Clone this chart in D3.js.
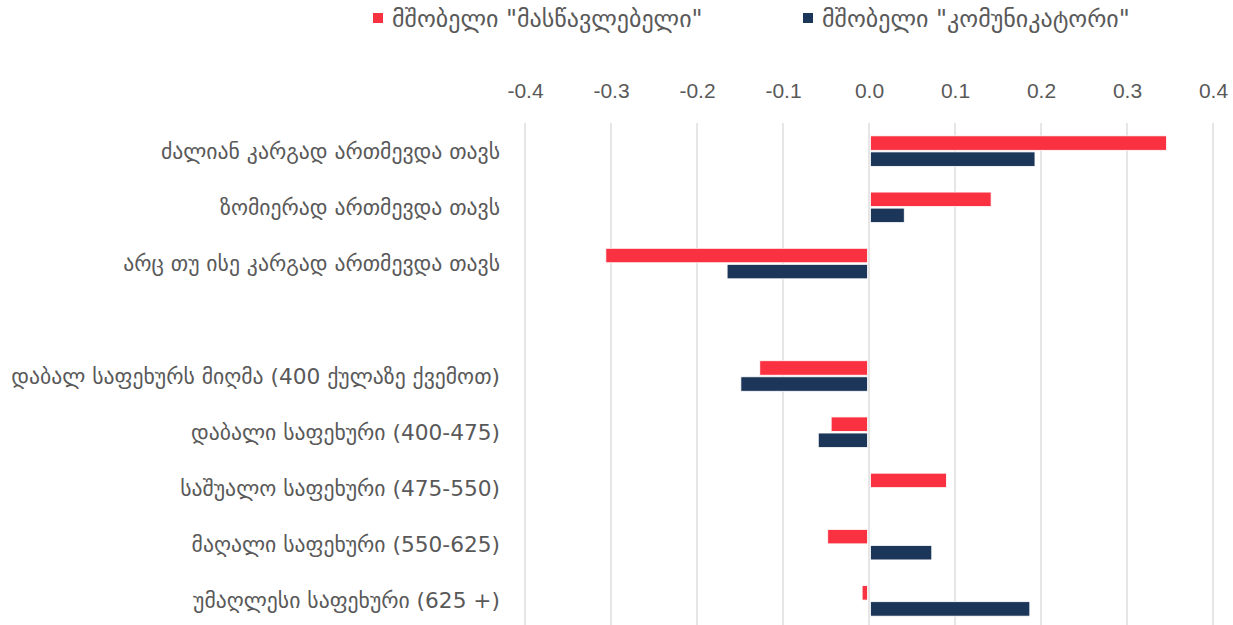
<!DOCTYPE html>
<html>
<head>
<meta charset="utf-8">
<script src="https://cdn.jsdelivr.net/npm/d3@7"></script>
<style>
  html, body { margin: 0; padding: 0; background: #ffffff; }
  svg text { font-family: "DejaVu Sans", "Noto Sans", sans-serif; fill: #595959; }
  .tick-label { font-family: "Liberation Sans", "Noto Sans", sans-serif; }
</style>
</head>
<body>
<svg id="chart" width="1233" height="625"></svg>
<script>
// Categories (an empty string leaves a spacer row between the two groups)
const categories = [
  "ძალიან კარგად ართმევდა თავს",
  "ზომიერად ართმევდა თავს",
  "არც თუ ისე კარგად ართმევდა თავს",
  "",
  "დაბალ საფეხურს მიღმა (400 ქულაზე ქვემოთ)",
  "დაბალი საფეხური (400-475)",
  "საშუალო საფეხური (475-550)",
  "მაღალი საფეხური (550-625)",
  "უმაღლესი საფეხური (625 +)"
];

const seriesNames = ["მშობელი \"მასწავლებელი\"", "მშობელი \"კომუნიკატორი\""];

// Parent "teacher" values
const teacherValues = [0.346, 0.142, -0.306, null, -0.127, -0.044, 0.090, -0.048, -0.008];
// Parent "communicator" values
const communicatorValues = [0.193, 0.041, -0.165, null, -0.149, -0.059, null, 0.073, 0.187];

const tickValues = [-0.4, -0.3, -0.2, -0.1, 0.0, 0.1, 0.2, 0.3, 0.4];

const colors = ["#F93141", "#1C3659"];

const svg = d3.select("#chart");
const W = 1233, H = 625;

const x = d3.scaleLinear().domain([-0.4, 0.4]).range([525, 1213]);
const y = d3.scaleBand().domain(d3.range(categories.length)).range([123, 629]).paddingInner(0).paddingOuter(0);

// Vertical gridlines
svg.append("g")
  .selectAll("line")
  .data(tickValues)
  .join("line")
  .attr("x1", d => x(d)).attr("x2", d => x(d))
  .attr("y1", 123).attr("y2", H)
  .attr("stroke", "#D9D9D9")
  .attr("stroke-width", 1.3);

// Top axis labels (plain hyphen for negatives)
const fmt = d => d3.format(".1f")(d).replace("\u2212", "-");
const axis = d3.axisTop(x).tickValues(tickValues).tickFormat(fmt).tickSize(0);
const axisG = svg.append("g").attr("transform", "translate(0,101)").call(axis);
axisG.select(".domain").remove();
axisG.selectAll("text")
  .attr("class", "tick-label")
  .style("font-size", "21px")
  .style("fill", "#595959")
  .attr("dy", 0);

// Category labels
svg.append("g")
  .selectAll("text")
  .data(categories)
  .join("text")
  .attr("x", 500)
  .attr("y", (d, i) => y(i) + y.bandwidth() / 2)
  .attr("dy", "0.35em")
  .attr("text-anchor", "end")
  .style("font-size", "21.7px")
  .text(d => d);

// Bars
const inner = d3.scaleBand().domain([0, 1]).range([0, y.bandwidth()]).paddingInner(0.1).paddingOuter(0.8);
const series = [teacherValues, communicatorValues];
series.forEach((vals, si) => {
  svg.append("g")
    .selectAll("rect")
    .data(vals.map((v, i) => ({ v, i })).filter(d => d.v !== null))
    .join("rect")
    .attr("x", d => d.v >= 0 ? x(0) + 1.5 : x(d.v))
    .attr("width", d => Math.max(0, Math.abs(x(d.v) - x(0)) - 1.5))
    .attr("y", d => y(d.i) + inner(si))
    .attr("height", inner.bandwidth())
    .attr("fill", colors[si])
    .attr("stroke", "#ffffff")
    .attr("stroke-width", 0.8);
});

// Legend
const legendItems = [
  { name: seriesNames[0], color: colors[0], x: 373 },
  { name: seriesNames[1], color: colors[1], x: 803 }
];
const lg = svg.append("g");
legendItems.forEach(it => {
  lg.append("rect").attr("x", it.x).attr("y", 13).attr("width", 10).attr("height", 10).attr("fill", it.color);
  lg.append("text").attr("x", it.x + 19).attr("y", 19).attr("dy", "0.35em")
    .style("font-size", "24px").text(it.name);
});
</script>
</body>
</html>
